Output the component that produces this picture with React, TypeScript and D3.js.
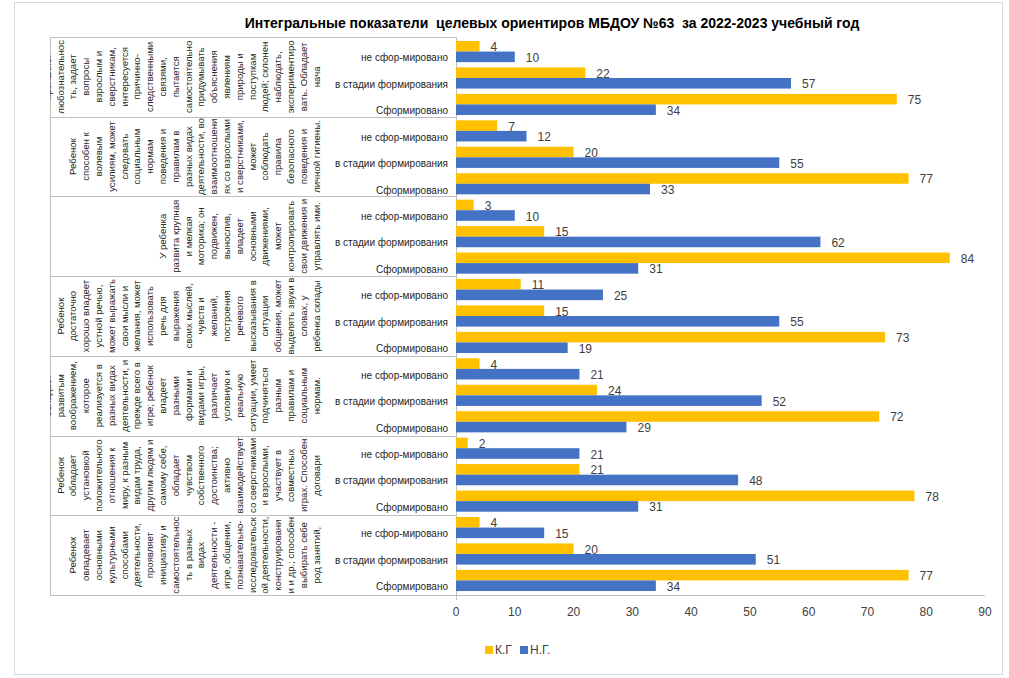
import React from "react";
import * as d3 from "d3";

const title = "Интегральные показатели  целевых ориентиров МБДОУ №63  за 2022-2023 учебный год";

const group1Lines = ["Ребенок", "проявляет", "любознательнос", "ть, задает", "вопросы", "взрослым и", "сверстникам,", "интересуется", "причинно-", "следственными", "связями,", "пытается", "самостоятельно", "придумывать", "объяснения", "явлениям", "природы и", "поступкам", "людей; склонен", "наблюдать,", "экспериментиро", "вать. Обладает", "нача"];
const group2Lines = ["Ребенок", "способен к", "волевым", "усилиям, может", "следовать", "социальным", "нормам", "поведения и", "правилам в", "разных видах", "деятельности, во", "взаимоотношени", "ях со взрослыми", "и сверстниками,", "может", "соблюдать", "правила", "безопасного", "поведения и", "личной гигиены."];
const group3Lines = ["У ребенка", "развита крупная", "и мелкая", "моторика; он", "подвижен,", "вынослив,", "владеет", "основными", "движениями,", "может", "контролировать", "свои движения и", "управлять ими."];
const group4Lines = ["Ребенок", "достаточно", "хорошо владеет", "устной речью,", "может выражать", "свои мысли и", "желания, может", "использовать", "речь для", "выражения", "своих мыслей,", "чувств и", "желаний,", "построения", "речевого", "высказывания в", "ситуации", "общения, может", "выделять звуки в", "словах, у", "ребенка склады"];
const group5Lines = ["Ребенок", "обладает", "развитым", "воображением,", "которое", "реализуется в", "разных видах", "деятельности, и", "прежде всего в", "игре; ребенок", "владеет", "разными", "формами и", "видами игры,", "различает", "условную и", "реальную", "ситуации, умеет", "подчиняться", "разным", "правилам и", "социальным", "нормам."];
const group6Lines = ["Ребенок", "обладает", "установкой", "положительного", "отношения к", "миру, к разным", "видам труда,", "другим людям и", "самому себе,", "обладает", "чувством", "собственного", "достоинства;", "активно", "взаимодействует", "со сверстниками", "и взрослыми,", "участвует в", "совместных", "играх. Способен", "договари"];
const group7Lines = ["Ребенок", "овладевает", "основными", "культурными", "способами", "деятельности,", "проявляет", "инициативу и", "самостоятельнос", "ть в разных", "видах", "деятельности -", "игре, общении,", "познавательно-", "исследовательск", "ой деятельности,", "конструировани", "и и др.; способен", "выбирать себе", "род занятий,"];

const groupLabels = [group1Lines, group2Lines, group3Lines, group4Lines, group5Lines, group6Lines, group7Lines];

const subCategories = ["не сфор-мировано", "в стадии формирования", "Сформировано"];

const kgValues = [4, 22, 75, 7, 20, 77, 3, 15, 84, 11, 15, 73, 4, 24, 72, 2, 21, 78, 4, 20, 77];
const ngValues = [10, 57, 34, 12, 55, 33, 10, 62, 31, 25, 55, 19, 21, 52, 29, 21, 48, 31, 15, 51, 34];

const seriesNames = ["К.Г", "Н.Г."];
const seriesColors = ["#FFC000", "#4472C4"];
const xTicks = [0, 10, 20, 30, 40, 50, 60, 70, 80, 90];

const W = 1009;
const H = 678;
const plotLeft = 456;
const plotRight = 985;
const plotTop = 37;
const plotBottom = 595;
const labelLeft = 50;
const labelRight = 330;
const textRight = 316;
const colStep = 12.8;

const font = "'Liberation Sans', Arial, sans-serif";

export default function App() {
  const x = d3.scaleLinear().domain([0, 90]).range([plotLeft, plotRight]);
  const rows = d3.range(groupLabels.length * subCategories.length);
  const y = d3.scaleBand<number>().domain(rows).range([plotTop, plotBottom]).paddingInner(0.2).paddingOuter(0.15);
  const ys = d3.scaleBand<number>().domain([0, 1]).range([0, y.bandwidth()]);
  const gy = d3.scaleBand<number>().domain(d3.range(groupLabels.length)).range([plotTop, plotBottom]);
  const series = [kgValues, ngValues];

  return (
    <div style={{ position: "absolute", left: 0, top: 0 }}>
      <svg width={W} height={H} style={{ display: "block", fontFamily: font }}>
        <rect x={0} y={0} width={W} height={H} fill="#fff" />
        <rect x={14.5} y={2.5} width={988} height={672} fill="none" stroke="#d9d9d9" />
        <defs>
          {groupLabels.map((_, gi) => (
            <clipPath id={`gclip${gi}`} key={gi}>
              <rect x={labelLeft} y={(gy(gi) as number) + 1} width={labelRight - labelLeft} height={gy.bandwidth() - 2} />
            </clipPath>
          ))}
        </defs>
        <text x={552} y={28} textAnchor="middle" fontWeight="bold" fontSize={14} fill="#000" style={{ whiteSpace: "pre" }}>
          {title}
        </text>

        {/* group separators */}
        {d3.range(groupLabels.length + 1).map((i) => {
          const yy = i < groupLabels.length ? (gy(i) as number) : plotBottom;
          return (
            <line key={i} x1={labelLeft} x2={i === groupLabels.length ? plotRight : plotLeft} y1={Math.round(yy) + 0.5} y2={Math.round(yy) + 0.5} stroke="#bfbfbf" strokeWidth={1} />
          );
        })}
        <line x1={labelLeft + 0.5} x2={labelLeft + 0.5} y1={plotTop} y2={plotBottom} stroke="#bfbfbf" />
        <line x1={plotLeft + 0.5} x2={plotLeft + 0.5} y1={plotTop} y2={plotBottom + 5} stroke="#bfbfbf" />

        {/* group labels */}
        {groupLabels.map((lines, gi) => {
          const cy = (gy(gi) as number) + gy.bandwidth() / 2;
          const start = textRight - (lines.length - 1) * colStep;
          return (
            <g key={gi} clipPath={`url(#gclip${gi})`}>
              {lines.map((ln, li) => {
                const cx = start + li * colStep;
                return (
                  <text key={li} transform={`translate(${cx},${cy}) rotate(-90)`} textAnchor="middle" dominantBaseline="central" fontSize={9.6} fill="#262626">
                    {ln}
                  </text>
                );
              })}
            </g>
          );
        })}

        {/* sub category labels */}
        {rows.map((r) => (
          <text key={r} x={448} y={(y(r) as number) + ys(1)! + ys.bandwidth() / 2 + 1} textAnchor="end" dominantBaseline="central" fontSize={10} fill="#262626">
            {subCategories[r % subCategories.length]}
          </text>
        ))}

        {/* bars */}
        {series.map((vals, si) => (
          <g key={si}>
            {vals.map((v, r) => (
              <rect key={r} x={x(0)} y={(y(r) as number) + (ys(si) as number)} width={x(v) - x(0)} height={ys.bandwidth()} fill={seriesColors[si]} />
            ))}
          </g>
        ))}

        {/* value labels */}
        {series.map((vals, si) => (
          <g key={si}>
            {vals.map((v, r) => (
              <text key={r} x={x(v) + 11} y={(y(r) as number) + (ys(si) as number) + ys.bandwidth() / 2 + 1} dominantBaseline="central" fontSize={12} fill="#404040">
                {v}
              </text>
            ))}
          </g>
        ))}

        {/* x ticks */}
        {xTicks.map((t) => (
          <text key={t} x={x(t)} y={612} textAnchor="middle" dominantBaseline="central" fontSize={12} fill="#404040">
            {t}
          </text>
        ))}

        {/* legend */}
        <g transform="translate(485,650)">
          {seriesNames.map((nm, i) => (
            <g key={nm} transform={`translate(${i * 35},0)`}>
              <rect x={0} y={-4} width={8} height={8} fill={seriesColors[i]} />
              <text x={10} y={0} dominantBaseline="central" fontSize={12} fill="#404040">
                {nm}
              </text>
            </g>
          ))}
        </g>
      </svg>
    </div>
  );
}
